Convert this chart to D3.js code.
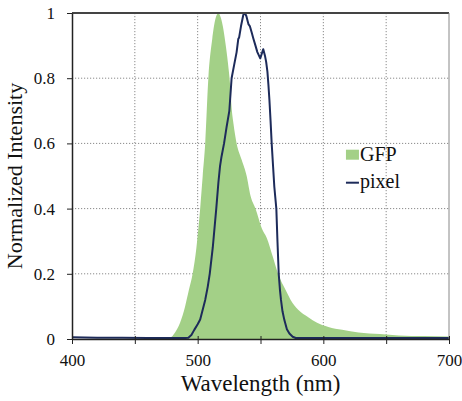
<!DOCTYPE html>
<html>
<head>
<meta charset="utf-8">
<script src="https://cdn.jsdelivr.net/npm/d3@7"></script>
<style>
  body { margin: 0; background: #fff; }
  svg text { font-family: "Liberation Serif", "DejaVu Serif", serif !important; fill: #111; }
</style>
</head>
<body>
<div id="chart"></div>
<script>
// data
const gfpWave = [400, 470, 478, 482, 486, 490, 493, 496, 499, 502, 504, 506, 508.5, 511.6, 514, 516.5,
  518, 520, 522, 524, 526, 527, 528.5, 531, 535, 539, 542, 546, 551, 555, 560, 564, 570, 574, 580,
  588, 595, 604, 615, 628, 645, 660, 680, 700];
const gfpValue = [0, 0, 0.004, 0.02, 0.05, 0.1, 0.15, 0.2, 0.28, 0.4, 0.5, 0.6, 0.8, 0.92, 0.98, 1,
  0.99, 0.96, 0.91, 0.85, 0.77, 0.71, 0.66, 0.6, 0.55, 0.5, 0.44, 0.4, 0.34, 0.31, 0.25, 0.2, 0.15, 0.12, 0.09,
  0.067, 0.05, 0.037, 0.028, 0.02, 0.015, 0.011, 0.009, 0.008];

const pixelWave = [400, 420, 440, 460, 480, 490, 492.6, 495, 497.3, 500, 502, 504, 506, 508,
  509.6, 512, 514.8, 516.5, 517.8, 519, 521, 523, 525.2, 527, 529, 531, 532.3, 533, 534.5, 536.3, 537.6,
  538.8, 539.8, 540.5, 541.5, 543, 544.3, 546, 547.5, 549.8, 551, 552.2, 553.5, 554.5, 555.5, 556.3,
  557.1, 558, 558.9, 560, 561, 562.6, 563.5, 564.5, 565.5, 566.3, 567.5, 569, 571, 573, 575.6, 578,
  600, 640, 700];
const pixelValue = [0.005, 0.004, 0.004, 0.003, 0.003, 0.003, 0.004, 0.012, 0.028, 0.045, 0.06, 0.09, 0.12, 0.16,
  0.2, 0.28, 0.4, 0.48, 0.53, 0.56, 0.6, 0.65, 0.7, 0.8, 0.84, 0.88, 0.92, 0.925, 0.96, 0.994, 1,
  0.99, 0.975, 0.965, 0.96, 0.94, 0.922, 0.9, 0.88, 0.861, 0.875, 0.889, 0.87, 0.85, 0.82, 0.78,
  0.733, 0.67, 0.6, 0.53, 0.467, 0.4, 0.3, 0.2, 0.15, 0.12, 0.085, 0.058, 0.03, 0.017, 0.007, 0.003,
  0.003, 0.003, 0.003];

const xTicks = [400, 450, 500, 550, 600, 650, 700];
const yTicks = [0, 0.2, 0.4, 0.6, 0.8, 1];
const legendNames = ["GFP", "pixel"];

const margin = { top: 13, right: 13, bottom: 62, left: 72 };
const width = 462 - margin.left - margin.right;
const height = 401 - margin.top - margin.bottom;

const svg = d3.select("#chart")
  .append("svg")
  .attr("width", width + margin.left + margin.right)
  .attr("height", height + margin.top + margin.bottom)
  .append("g")
  .attr("transform", `translate(${margin.left},${margin.top})`);

const x = d3.scaleLinear().domain([400, 700]).range([0, width]);
const y = d3.scaleLinear().domain([0, 1]).range([height, 0]);

// grid
svg.append("g").selectAll("line")
  .data(xTicks.filter(d => d > 400 && d < 700))
  .join("line")
  .attr("x1", d => x(d)).attr("x2", d => x(d))
  .attr("y1", 0).attr("y2", height)
  .attr("stroke", "#8a8a8a").attr("stroke-dasharray", "1.2,1.8");

svg.append("g").selectAll("line")
  .data(yTicks.filter(d => d > 0 && d < 1))
  .join("line")
  .attr("x1", 0).attr("x2", width)
  .attr("y1", d => y(d)).attr("y2", d => y(d))
  .attr("stroke", "#8a8a8a").attr("stroke-dasharray", "1.2,1.8");

// GFP area
const gfp = gfpWave.map((w, i) => ({ w: w, v: gfpValue[i] }));
svg.append("path")
  .datum(gfp)
  .attr("fill", "#a3d087")
  .attr("d", d3.area().x(d => x(d.w)).y0(y(0)).y1(d => y(d.v)).curve(d3.curveMonotoneX));

// pixel line
const pixel = pixelWave.map((w, i) => ({ w: w, v: pixelValue[i] }));
svg.append("path")
  .datum(pixel)
  .attr("fill", "none")
  .attr("stroke", "#1d2b5a")
  .attr("stroke-width", 2)
  .attr("stroke-linejoin", "round")
  .attr("d", d3.line().x(d => x(d.w)).y(d => y(d.v)));

// frame
svg.append("line").attr("x1", 0).attr("x2", width).attr("y1", 0).attr("y2", 0)
  .attr("stroke", "#444").attr("stroke-width", 2);
svg.append("line").attr("x1", width).attr("x2", width).attr("y1", 0).attr("y2", height)
  .attr("stroke", "#888").attr("stroke-width", 1);

// axes
const xAxis = svg.append("g")
  .attr("transform", `translate(0,${height})`)
  .call(d3.axisBottom(x).tickValues(xTicks).tickSize(5).tickSizeOuter(0)
    .tickFormat(d => d % 100 === 0 ? d : ""));
xAxis.select(".domain").attr("stroke", "#222").attr("stroke-width", 1.5);
xAxis.selectAll(".tick line").attr("stroke", "#222").attr("y1", -3);
xAxis.selectAll(".tick text").attr("y", 15).style("font-size", "17px");

const yAxis = svg.append("g")
  .call(d3.axisLeft(y).tickValues(yTicks).tickSize(5).tickSizeOuter(0).tickFormat(d => d));
yAxis.select(".domain").attr("stroke", "#222").attr("stroke-width", 1.5);
yAxis.selectAll(".tick line").attr("stroke", "#222");
yAxis.selectAll(".tick text").attr("x", -17).style("font-size", "17px");

// labels
svg.append("text")
  .attr("x", width / 2)
  .attr("y", height + 52)
  .attr("text-anchor", "middle")
  .style("font-size", "23px")
  .text("Wavelength (nm)");

svg.append("text")
  .attr("transform", "rotate(-90)")
  .attr("x", -height / 2)
  .attr("y", -50)
  .attr("text-anchor", "middle")
  .style("font-size", "22px")
  .text("Normalized Intensity");

// legend
const leg = svg.append("g").attr("transform", `translate(${x(618)},${y(0.55)})`);
leg.append("rect").attr("x", 0).attr("y", -10).attr("width", 13).attr("height", 10).attr("fill", "#a3d087");
leg.append("text").attr("x", 14).attr("y", 1).style("font-size", "20px").text(legendNames[0]);
leg.append("line").attr("x1", 0).attr("x2", 13).attr("y1", 23).attr("y2", 23)
  .attr("stroke", "#1d2b5a").attr("stroke-width", 2);
leg.append("text").attr("x", 14).attr("y", 28).style("font-size", "20px").text(legendNames[1]);
</script>
</body>
</html>
